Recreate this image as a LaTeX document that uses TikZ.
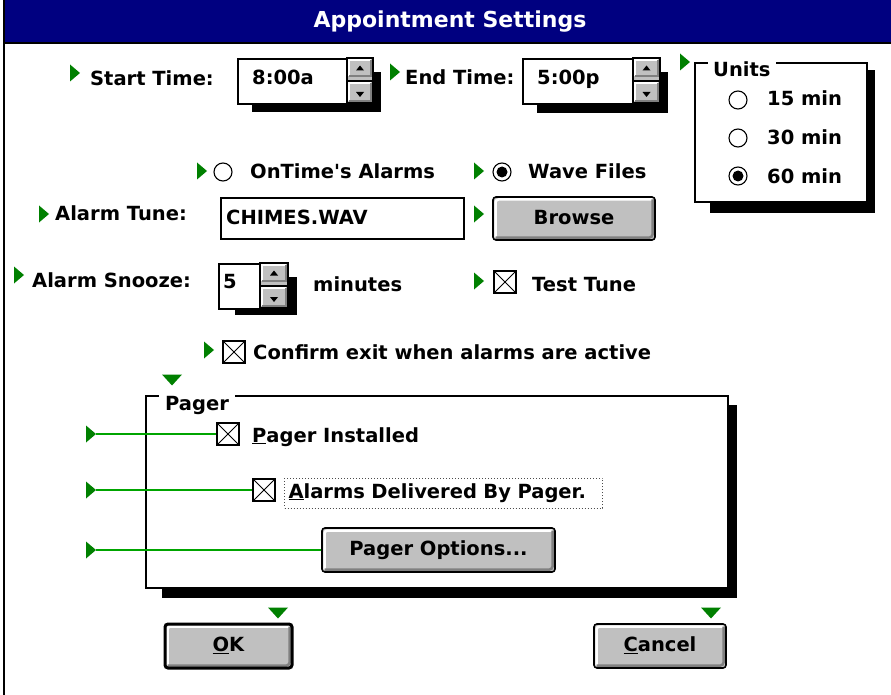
\documentclass[tikz,border=0pt]{standalone}
\usepackage{fontspec}
\newfontfamily\dv{DejaVu Sans}
\usetikzlibrary{calc}
\definecolor{navy}{RGB}{0,0,128}
\definecolor{mk}{RGB}{0,128,0}
\definecolor{connc}{RGB}{0,165,0}
\definecolor{btngray}{RGB}{192,192,192}
\definecolor{btndark}{RGB}{128,128,128}
\newcommand\lbf{\dv\bfseries\fontsize{19.5}{23}\selectfont}
\newcommand\rtri[2]{\fill[mk] (#1,#2-8.5) -- (#1+10,#2) -- (#1,#2+8.5) -- cycle;}
\newcommand\dtri[2]{\fill[mk] (#1-10,#2-5.5) -- (#1+10,#2-5.5) -- (#1,#2+5.5) -- cycle;}
\newcommand\spin[5]{%
  \fill[btngray] (#1,#2) rectangle (#3,#4);
  \draw[white,line width=1.5pt] (#1+2,#5-3) -- (#1+2,#2+2) -- (#3-2,#2+2);
  \draw[btndark,line width=1.5pt] (#1+2,#5-3) -- (#3-2,#5-3) -- (#3-2,#2+2);
  \draw[white,line width=1.5pt] (#1+2,#4-2) -- (#1+2,#5+4) -- (#3-2,#5+4);
  \draw[btndark,line width=1.5pt] (#1+2,#4-2) -- (#3-2,#4-2) -- (#3-2,#5+4);
  \draw[line width=1.2pt] (#1,#5+2) -- (#3,#5+2);
  \draw[line width=1.2pt] (#1,#2) rectangle (#3,#4);
  \fill ({(#1+#3)/2-4},{(#2+#5)/2+2}) -- ++(8,0) -- ++(-4,-5) -- cycle;
  \fill ({(#1+#3)/2-4},{(#5+#4)/2+1}) -- ++(8,0) -- ++(-4,5) -- cycle;
}
\tikzset{
  lbl/.style={font=\lbf, anchor=base west, inner sep=0pt},
  field/.style={draw, line width=1.6pt, fill=white, inner sep=0pt, anchor=north west},
  radio/.style={circle, draw, line width=1.1pt, fill=white, minimum size=18pt, inner sep=0pt},
  chk/.style={draw, line width=1.2pt, fill=white, minimum size=22pt, inner sep=0pt,
    path picture={\draw[line width=0.9pt] (path picture bounding box.north west) -- (path picture bounding box.south east)
      (path picture bounding box.south west) -- (path picture bounding box.north east);}},
  button/.style={draw, line width=1.6pt, rounded corners=3pt, fill=btngray, font=\lbf, inner sep=0pt,
    text height=14pt, text depth=3pt,
    path picture={
      \draw[white, line width=2.5pt] ([shift={(2.5pt,2.5pt)}]path picture bounding box.south west) |- ([shift={(-2.5pt,-2.5pt)}]path picture bounding box.north east);
      \draw[btndark, line width=2.5pt] ([shift={(2.5pt,2.5pt)}]path picture bounding box.south west) -| ([shift={(-2.5pt,-2.5pt)}]path picture bounding box.north east);}},
  grp/.style={draw, line width=1.5pt, fill=white},
  grplbl/.style={lbl, fill=white, inner ysep=2pt},
  conn/.style={draw=connc, line width=1.5pt},
}
\begin{document}
\begin{tikzpicture}[x=1pt,y=-1pt]
\useasboundingbox (0,0) rectangle (891,695);
\fill[white] (0,0) rectangle (891,695);
% title bar and frame
\fill[navy] (4,0) rectangle (891,43);
\draw[line width=1.5pt] (4,43) -- (891,43);
\draw[line width=2.5pt] (4,0) -- (4,695);
\node[font=\dv\bfseries\fontsize{22}{26}\selectfont, text=white, inner sep=0pt] (title) at (450,22) {Appointment Settings};

% Start time
\rtri{70}{73}
\node[lbl] (lst) at (90,86) {Start Time:};
\fill (252,72) rectangle (381,112);
\node[field, minimum width=110pt, minimum height=45pt] (st) at (237,58) {};
\node[lbl] (stv) at (252,85) {8:00a};
\spin{347}{58}{373}{103}{79}

% End time
\rtri{390}{72}
\node[lbl] (let) at (405,85) {End Time:};
\fill (537,72) rectangle (668,113);
\node[field, minimum width=111pt, minimum height=45pt] (et) at (522,58) {};
\node[lbl] (etv) at (537,85) {5:00p};
\spin{633}{58}{660}{103}{79}

% Units group
\rtri{680}{62}
\fill (710,70) rectangle (875,213);
\draw[grp] (695,63) rectangle (867,202);
\node[grplbl, inner xsep=5pt] (units) at (708,77) {Units};
\node[radio] (r15) at (738,100) {};
\node[lbl] (t15) at (767,106) {15 min};
\node[radio] (r30) at (738,138) {};
\node[lbl] (t30) at (767,145) {30 min};
\node[radio] (r60) at (738,176) {};
\fill (r60.center) circle (5.5pt);
\node[lbl] (t60) at (767,184) {60 min};

% Alarm source
\rtri{197}{171}
\node[radio] (ron) at (223,172) {};
\node[lbl] (ton) at (250,179) {OnTime{\char"0027}s Alarms};
\rtri{474}{171}
\node[radio] (rwave) at (502,172) {};
\fill (rwave.center) circle (5.5pt);
\node[lbl] (twave) at (528,179) {Wave Files};

% Alarm tune
\rtri{39}{214}
\node[lbl] (ltune) at (55,220) {Alarm Tune:};
\node[field, minimum width=243pt, minimum height=41pt] (tune) at (220,197) {};
\node[lbl] (tunev) at (226,225) {CHIMES.WAV};
\rtri{474}{214}
\node[button, minimum width=162pt, minimum height=43pt] (browse) at (574,218.5) {Browse};

% Snooze
\rtri{14}{275}
\node[lbl] (lsnz) at (32,287) {Alarm Snooze:};
\fill (235,277) rectangle (297,315);
\node[field, minimum width=42pt, minimum height=45pt] (snz) at (218,263) {};
\node[lbl] (snzv) at (223,288) {5};
\spin{260}{263}{288}{308}{284}
\node[lbl] (mins) at (313,291) {minutes};

% Test tune
\rtri{474}{281}
\node[chk] (ctest) at (505,282) {};
\node[lbl] (ttest) at (532,291) {Test Tune};

% Confirm exit
\rtri{204}{350}
\node[chk] (cconf) at (234,352) {};
\node[lbl] (tconf) at (253,359) {Confirm exit when alarms are active};

% Pager group
\dtri{172}{380}
\fill (162,405) rectangle (737,598);
\draw[grp] (146,396) rectangle (728,588);
\node[grplbl, inner xsep=6pt] (pager) at (159,410) {Pager};

\rtri{86}{434}
\coordinate (m1) at (96,434);
\node[chk] (cpi) at (228,434) {};
\node[lbl] (tpi) at (252,442) {\underline{P}ager Installed};
\draw[conn] (m1) -- (cpi.west);

\rtri{86}{490}
\coordinate (m2) at (96,490);
\node[chk] (cad) at (264,490) {};
\node[lbl, draw=black!70, dotted, line width=1pt, inner xsep=4pt, inner ysep=3pt, text height=17pt, text depth=7pt,
      text width=310pt, align=left] (tad) at (284,498) {\underline{A}larms Delivered By Pager.};
\draw[conn] (m2) -- (cad.west);

\rtri{86}{550}
\coordinate (m3) at (96,550);
\node[button, minimum width=233pt, minimum height=44pt] (popt) at (438.5,550) {Pager Options...};
\draw[conn] (m3) -- (popt.west);

% OK / Cancel
\dtri{278}{613}
\node[button, line width=3pt, minimum width=127pt, minimum height=44pt] (ok) at (228.5,646) {\underline{O}K};
\dtri{711}{613}
\node[button, minimum width=132pt, minimum height=44pt] (cancel) at (660,646) {\underline{C}ancel};
\end{tikzpicture}
\end{document}
